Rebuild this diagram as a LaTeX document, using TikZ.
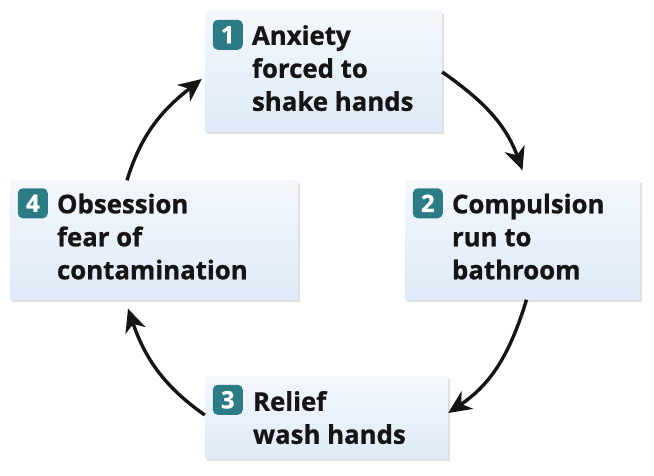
\documentclass[tikz,border=0pt]{standalone}
\usepackage{fontspec}
\setmainfont{Open Sans}[BoldFeatures={FakeBold=0.8}]
\usetikzlibrary{arrows.meta,shadows}
\definecolor{boxblue}{RGB}{222,234,248}
\definecolor{badgeteal}{RGB}{44,124,134}
\definecolor{ink}{RGB}{22,20,20}

\begin{document}
\begin{tikzpicture}[x=1pt,y=1pt,
        stage/.style={rectangle, inner sep=0pt, top color=boxblue!35, bottom color=boxblue,
                        drop shadow={opacity=0.25, shadow xshift=1.5pt, shadow yshift=-2.5pt}},
        num/.style={rectangle, rounded corners=5pt, fill=badgeteal, text=white,
                        minimum size=30pt, inner sep=0pt, font=\fontsize{24}{24}\selectfont\bfseries},
        txt/.style={anchor=base west, align=left, inner sep=0pt, text=ink,
                        font=\fontsize{25.8}{33}\selectfont\bfseries},
        cyc/.style={line width=3.4pt, ink, -{Stealth[length=23pt,width=21pt,inset=7pt]}}]
    \useasboundingbox (0,0) rectangle (654,476);
    \node[stage, minimum width=237pt, minimum height=120pt] (b1) at (323.5,404) {};
    \node[stage, minimum width=235pt, minimum height=119pt] (b2) at (522.5,236) {};
    \node[stage, minimum width=243pt, minimum height=82pt] (b3) at (326.5,58) {};
    \node[stage, minimum width=288pt, minimum height=119pt] (b4) at (154,236) {};
    \node[num] (n1) at ([shift={(23pt,-23pt)}]b1.north west) {1};
    \node[num] (n2) at ([shift={(23pt,-23pt)}]b2.north west) {2};
    \node[num] (n3) at ([shift={(23pt,-23pt)}]b3.north west) {3};
    \node[num] (n4) at ([shift={(23pt,-23pt)}]b4.north west) {4};
    % base anchor sits on the last line
    \node[txt] (t1) at ([shift={(47pt,-99pt)}]b1.north west) {Anxiety\\forced to\\shake hands};
    \node[txt] (t2) at ([shift={(47pt,-99pt)}]b2.north west) {Compulsion\\run to\\bathroom};
    \node[txt] (t3) at ([shift={(48pt,-67pt)}]b3.north west) {Relief\\wash hands};
    \node[txt] (t4) at ([shift={(47pt,-99pt)}]b4.north west) {Obsession\\fear of\\contamination};
    \draw[cyc] (b1.east) to[out=-35,in=110] ([yshift=10pt]b2.north);
    \draw[cyc] ([xshift=4pt]b2.south) to[out=-107,in=34] ([yshift=5pt]b3.east);
    \draw[cyc] ([yshift=3pt]b3.west) to[out=145,in=-71] ([shift={(-26pt,-9pt)}]b4.south);
    \draw[cyc] ([xshift=-27pt]b4.north) to[out=73,in=218] ([shift={(-3pt,-7pt)}]b1.west);
\end{tikzpicture}
\end{document}
